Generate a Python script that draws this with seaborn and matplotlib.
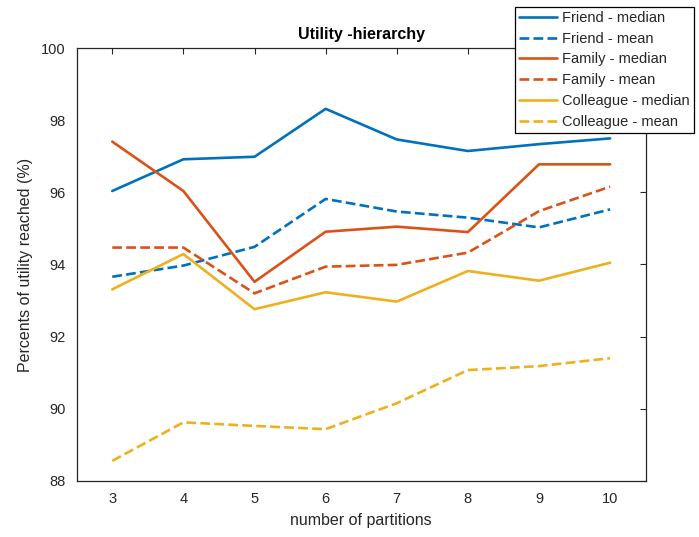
import matplotlib
matplotlib.use("Agg")
import matplotlib.pyplot as plt
import seaborn as sns
import pandas as pd

partitions = [3, 4, 5, 6, 7, 8, 9, 10]
friend_median = [96.04, 96.92, 96.99, 98.32, 97.47, 97.15, 97.34, 97.50]
friend_mean = [93.66, 93.97, 94.49, 95.82, 95.47, 95.30, 95.03, 95.53]
family_median = [97.41, 96.04, 93.52, 94.91, 95.05, 94.90, 96.78, 96.78]
family_mean = [94.47, 94.47, 93.20, 93.94, 93.99, 94.33, 95.48, 96.16]
colleague_median = [93.31, 94.29, 92.76, 93.23, 92.97, 93.82, 93.55, 94.05]
colleague_mean = [88.55, 89.62, 89.52, 89.43, 90.15, 91.07, 91.18, 91.40]

series = [
    ("Friend - median", friend_median, "#0072BD", "-"),
    ("Friend - mean", friend_mean, "#0072BD", "--"),
    ("Family - median", family_median, "#D95319", "-"),
    ("Family - mean", family_mean, "#D95319", "--"),
    ("Colleague - median", colleague_median, "#EDB120", "-"),
    ("Colleague - mean", colleague_mean, "#EDB120", "--"),
]

sns.set_style("white")
plt.rcParams["font.family"] = ["Liberation Sans", "DejaVu Sans"]

fig = plt.figure(figsize=(6.99, 5.37), dpi=100)
ax = fig.add_axes([76.7 / 699, 1 - 480.7 / 537, (645.7 - 76.7) / 699, (480.7 - 48.3) / 537])

for name, vals, col, ls in series:
    df = pd.DataFrame({"x": partitions, "y": vals})
    sns.lineplot(data=df, x="x", y="y", ax=ax, color=col, linestyle=ls,
                 linewidth=1.9, label=name, legend=False)

ax.set_xlim(2.5, 10.5)
ax.set_ylim(88, 100)
ax.set_xticks(partitions)
ax.set_yticks([88, 90, 92, 94, 96, 98, 100])
ax.tick_params(direction="in", length=4, width=0.8, colors="#262626",
               labelsize=10.5, top=True, right=True, labeltop=False, labelright=False, pad=8)
for sp in ax.spines.values():
    sp.set_color("#262626")
    sp.set_linewidth(0.9)
    sp.set_visible(True)

ax.set_xlabel("number of partitions", fontsize=11.5, color="#262626", labelpad=5)
ax.set_ylabel("Percents of utility reached (%)", fontsize=11.5, color="#262626", labelpad=6)
ax.set_title("Utility -hierarchy", fontsize=11.5, fontweight="bold", color="black", pad=7)

handles, labels = ax.get_legend_handles_labels()
leg = fig.legend(handles, labels, loc="lower left",
                 bbox_to_anchor=(515 / 699, 1 - 133 / 537),
                 fontsize=10.5, frameon=True, fancybox=False, framealpha=1,
                 edgecolor="black", handlelength=2.6, handletextpad=0.35,
                 labelspacing=0.46, borderpad=0.3, borderaxespad=0)
leg.get_frame().set_linewidth(0.9)
for t in leg.get_texts():
    t.set_color("#262626")

fig.savefig("out.png", dpi=100)
